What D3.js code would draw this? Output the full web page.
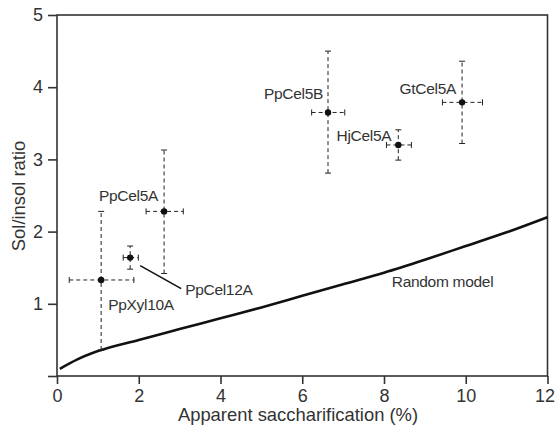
<!DOCTYPE html>
<html lang="en">
<head>
<meta charset="UTF-8">
<title>Sol/insol ratio vs apparent saccharification</title>
<script src="https://cdn.jsdelivr.net/npm/d3@7/dist/d3.min.js"></script>
<style>
    body { margin: 0; background: #fff; }
    text { font-family: "Liberation Sans", Arial, sans-serif; fill: #333; }
</style>
</head>
<body>
<svg width="555" height="431"></svg>
<script>
// enzymes: value and error range on both axes
const names = ["PpXyl10A", "PpCel12A", "PpCel5A", "PpCel5B", "HjCel5A", "GtCel5A"];
const xVal  = [1.08, 1.79, 2.62, 6.63, 8.35, 9.91];
const xLo   = [0.30, 1.62, 2.18, 6.23, 8.06, 9.43];
const xHi   = [1.88, 1.99, 3.09, 7.04, 8.67, 10.41];
const yVal  = [1.33, 1.64, 2.28, 3.65, 3.20, 3.79];
const yLo   = [0.36, 1.48, 1.42, 2.81, 2.99, 3.22];
const yHi   = [2.28, 1.80, 3.13, 4.50, 3.41, 4.36];

// random model curve
const modelX = [0.07, 0.5, 1, 2, 3, 4, 5, 6, 7, 8, 9, 10, 11, 12];
const modelY = [0.10, 0.23, 0.345, 0.50, 0.65, 0.80, 0.95, 1.11, 1.27, 1.43, 1.61, 1.80, 1.99, 2.20];

const xTicks = [0, 2, 4, 6, 8, 10, 12];
const yTicks = [1, 2, 3, 4, 5];

const svg = d3.select("svg");
const x = d3.scaleLinear().domain([0, 12]).range([57, 547.5]);
const y = d3.scaleLinear().domain([0, 5]).range([376, 15]);

// axes
svg.append("g")
    .attr("transform", "translate(0,376)")
    .call(d3.axisBottom(x).tickValues(xTicks).tickSize(8).tickPadding(5))
    .call(g => g.select(".domain").remove())
    .call(g => g.selectAll(".tick text").filter(d => d === 12)
        .attr("text-anchor", "end").attr("dx", 7));
svg.append("g")
    .attr("transform", "translate(57,0)")
    .call(d3.axisLeft(y).tickValues([0].concat(yTicks)).tickSize(9).tickPadding(5)
        .tickFormat(d => d === 0 ? "" : d))
    .call(g => g.select(".domain").remove());
svg.selectAll(".tick line").attr("stroke", "#333").attr("stroke-width", 1.6);
svg.selectAll(".tick text").style("font-size", "18px").attr("fill", "#333");

// frame
svg.append("rect")
    .attr("x", x(0)).attr("y", y(5))
    .attr("width", x(12) - x(0)).attr("height", y(0) - y(5))
    .attr("fill", "none").attr("stroke", "#333").attr("stroke-width", 1.6);

// axis titles
svg.append("text")
    .attr("x", 298).attr("y", 421)
    .attr("text-anchor", "middle").style("font-size", "18.4px")
    .text("Apparent saccharification (%)");
svg.append("text")
    .attr("transform", "translate(25,196) rotate(-90)")
    .attr("text-anchor", "middle").style("font-size", "18.4px")
    .text("Sol/insol ratio");

// model line
const line = d3.line().x(d => x(d[0])).y(d => y(d[1])).curve(d3.curveMonotoneX);
svg.append("path")
    .datum(modelX.map((v, i) => [v, modelY[i]]))
    .attr("d", line)
    .attr("fill", "none").attr("stroke", "#111").attr("stroke-width", 2.6);
svg.append("text")
    .attr("x", x(8.19)).attr("y", y(1.23))
    .style("font-size", "15.5px").style("letter-spacing", "-0.3px")
    .text("Random model");

// error bars
const idx = d3.range(names.length);
const eb = svg.append("g").attr("stroke", "#222").attr("stroke-width", 1).attr("fill", "none");
eb.selectAll(".ex").data(idx).join("line")
    .attr("x1", i => x(xLo[i])).attr("x2", i => x(xHi[i]))
    .attr("y1", i => y(yVal[i])).attr("y2", i => y(yVal[i]))
    .attr("stroke-dasharray", "4,3");
eb.selectAll(".ey").data(idx).join("line")
    .attr("x1", i => x(xVal[i])).attr("x2", i => x(xVal[i]))
    .attr("y1", i => y(yLo[i])).attr("y2", i => y(yHi[i]))
    .attr("stroke-dasharray", "4,3");
// caps
const cap = 3;
[xLo, xHi].forEach(arr => {
    eb.append("g").selectAll("line").data(idx).join("line")
        .attr("x1", i => x(arr[i])).attr("x2", i => x(arr[i]))
        .attr("y1", i => y(yVal[i]) - cap).attr("y2", i => y(yVal[i]) + cap);
});
[yLo, yHi].forEach(arr => {
    eb.append("g").selectAll("line").data(idx).join("line")
        .attr("y1", i => y(arr[i])).attr("y2", i => y(arr[i]))
        .attr("x1", i => x(xVal[i]) - cap).attr("x2", i => x(xVal[i]) + cap);
});

// points
svg.append("g").selectAll("circle").data(idx).join("circle")
    .attr("cx", i => x(xVal[i])).attr("cy", i => y(yVal[i]))
    .attr("r", 3.2).attr("fill", "#111");

// labels, offset from their point in pixels
const labelPos = {
    PpXyl10A: [7, 30, "start"],
    PpCel12A: [55, 37, "start"],
    PpCel5A: [-6, -10, "end"],
    PpCel5B: [-5, -13, "end"],
    HjCel5A: [-7, -4, "end"],
    GtCel5A: [-6, -8, "end"]
};
svg.append("g").selectAll("text").data(idx).join("text")
    .attr("x", i => x(xVal[i]) + labelPos[names[i]][0])
    .attr("y", i => y(yVal[i]) + labelPos[names[i]][1])
    .attr("text-anchor", i => labelPos[names[i]][2])
    .style("font-size", "15.5px").style("letter-spacing", "-0.3px")
    .text(i => names[i]);

// leader line for PpCel12A
const k = names.indexOf("PpCel12A");
svg.append("line")
    .attr("x1", x(xVal[k]) + 10).attr("y1", y(yVal[k]) + 8)
    .attr("x2", x(xVal[k]) + 51).attr("y2", y(yVal[k]) + 31)
    .attr("stroke", "#111").attr("stroke-width", 1.6);
</script>
</body>
</html>
